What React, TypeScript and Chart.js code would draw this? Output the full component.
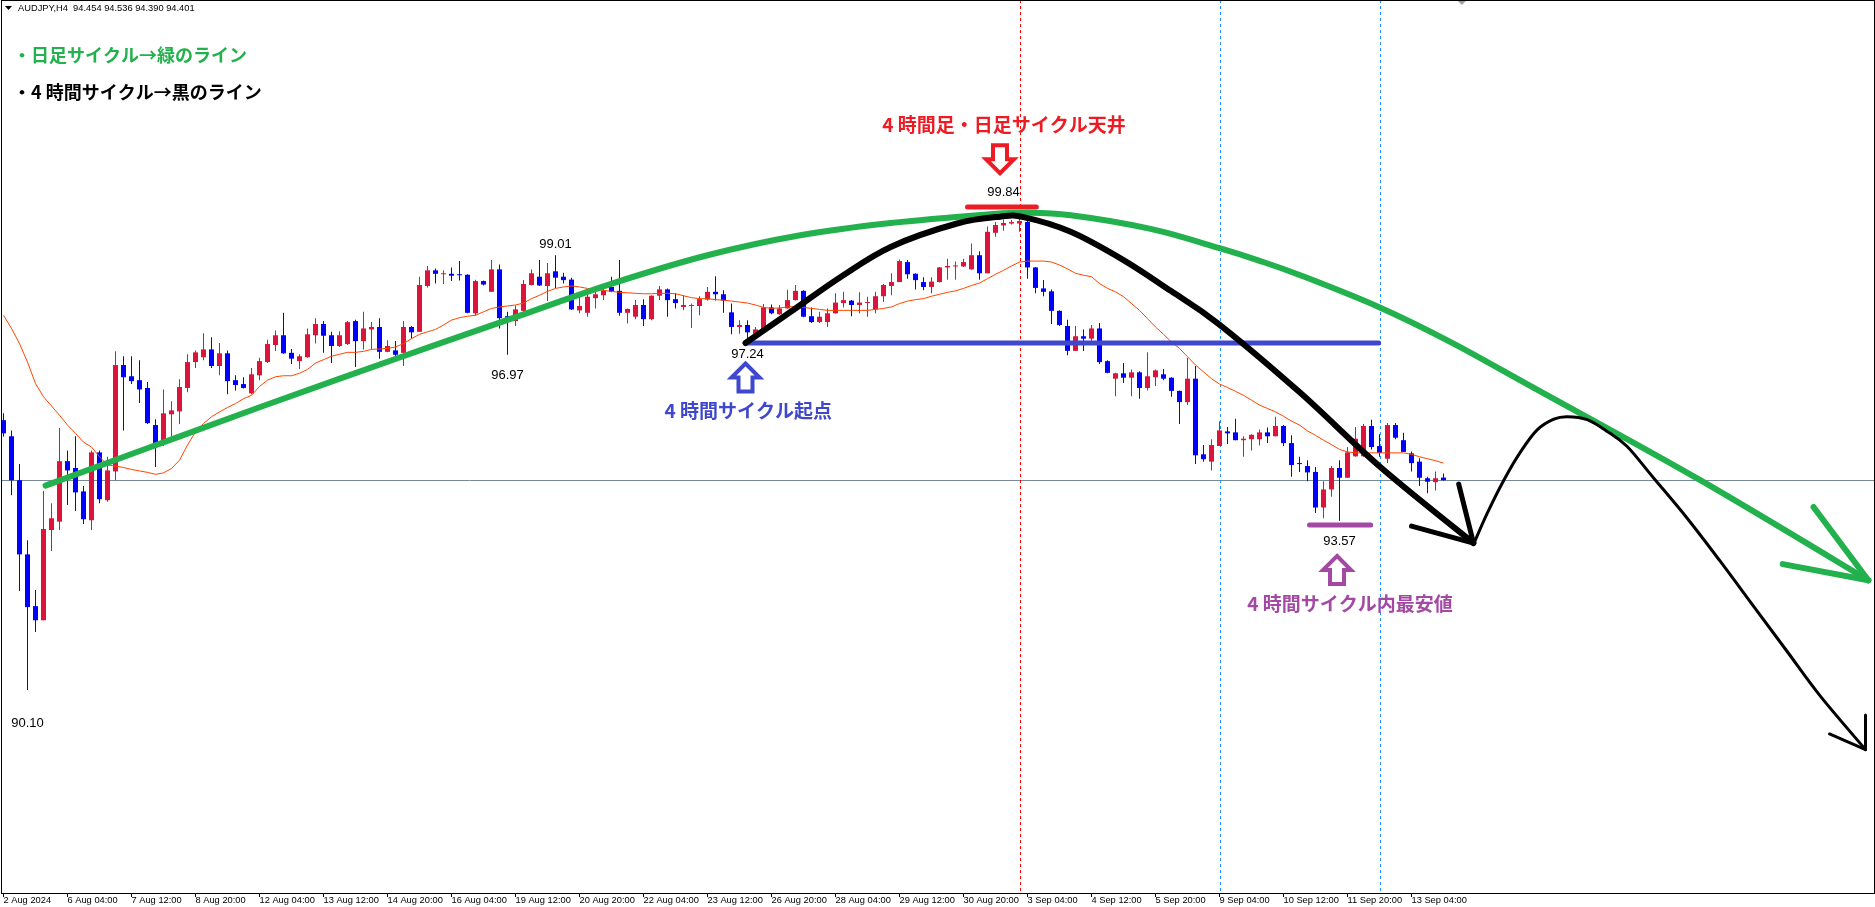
import React, { useEffect, useRef } from "react";
import { Chart, registerables } from "chart.js";

Chart.register(...registerables);

const SYMBOL = "AUDJPY,H4";

const opens = [
  95.63, 95.30, 94.40, 92.88, 91.82, 91.53, 93.38, 93.55, 94.79, 94.65,
  94.17, 93.58, 94.97, 93.99, 94.58, 96.76, 96.53, 96.45, 96.29, 95.53,
  95.22, 95.75, 95.81, 96.29, 96.82, 96.92, 97.08, 96.74, 97.00, 96.45,
  96.37, 96.18, 96.55, 96.82, 97.17, 97.37, 97.01, 96.84, 96.92, 97.37,
  97.60, 97.37, 97.15, 97.19, 97.66, 97.25, 97.49, 97.54, 97.03, 97.06,
  97.01, 97.54, 97.44, 98.38, 98.70, 98.62, 98.63, 98.62, 98.61, 97.82,
  98.48, 98.26, 98.72, 97.76, 97.66, 97.87, 98.40, 98.57, 98.38, 98.68,
  98.57, 98.51, 97.88, 97.83, 98.13, 98.19, 98.36, 98.28, 97.83, 97.75,
  97.99, 97.70, 98.18, 98.31, 98.11, 97.95, 97.97, 97.97, 98.10, 98.26,
  98.21, 97.84, 97.54, 97.58, 97.40, 97.47, 97.94, 97.80, 97.92, 98.09,
  98.28, 97.76, 97.64, 97.64, 97.82, 98.03, 98.08, 97.99, 98.03, 97.90,
  98.17, 98.38, 98.46, 98.87, 98.63, 98.46, 98.36, 98.46, 98.76, 98.78,
  98.78, 98.72, 99.01, 98.64, 99.47, 99.62, 99.66, 99.66, 99.69, 98.76,
  98.33, 98.27, 97.87, 97.56, 97.05, 97.35, 97.30, 97.51, 96.84, 96.48,
  96.59, 96.50, 96.61, 96.29, 96.51, 96.57, 96.50, 96.23, 96.00, 96.48,
  94.93, 94.78, 95.10, 95.40, 95.38, 95.22, 95.24, 95.24, 95.38, 95.30,
  95.51, 95.16, 94.75, 94.69, 94.57, 93.84, 94.21, 94.65, 94.45, 94.89,
  94.89, 95.51, 95.10, 94.84, 95.53, 95.22, 94.95, 94.78, 94.44, 94.36,
  94.454,
];
const highs = [
  95.77, 95.42, 94.73, 93.17, 92.15, 94.18, 93.93, 95.47, 95.01, 95.30,
  94.28, 95.01, 95.01, 94.88, 97.04, 96.94, 96.94, 96.86, 96.41, 95.65,
  96.26, 96.02, 96.47, 96.98, 97.06, 97.41, 97.33, 97.21, 97.06, 96.55,
  96.51, 96.70, 96.91, 97.28, 97.47, 97.83, 97.09, 96.98, 97.51, 97.72,
  97.66, 97.44, 97.45, 97.66, 97.69, 97.85, 97.64, 97.72, 97.27, 97.25,
  97.66, 97.56, 98.57, 98.79, 98.74, 98.70, 98.76, 98.89, 98.62, 98.51,
  98.49, 98.91, 98.82, 97.85, 97.98, 98.50, 98.72, 98.91, 98.85, 99.01,
  98.65, 98.55, 98.16, 98.23, 98.33, 98.36, 98.57, 98.91, 97.92, 98.09,
  98.11, 98.19, 98.38, 98.33, 98.23, 98.19, 98.02, 98.17, 98.36, 98.58,
  98.29, 98.02, 97.68, 97.68, 97.54, 98.01, 98.00, 97.99, 98.30, 98.40,
  98.29, 97.94, 97.85, 97.92, 98.23, 98.26, 98.09, 98.25, 98.16, 98.26,
  98.42, 98.64, 98.92, 98.91, 98.64, 98.56, 98.56, 98.77, 98.94, 98.88,
  98.94, 99.25, 99.09, 99.60, 99.69, 99.74, 99.73, 99.84, 99.80, 98.77,
  98.50, 98.31, 97.88, 97.69, 97.56, 97.49, 97.58, 97.62, 96.86, 96.60,
  96.80, 96.67, 96.63, 97.02, 96.67, 96.68, 96.51, 96.24, 96.91, 96.74,
  95.12, 95.24, 95.61, 95.49, 95.66, 95.30, 95.34, 95.44, 95.48, 95.70,
  95.53, 95.32, 94.88, 94.81, 94.67, 94.38, 94.69, 94.81, 95.08, 95.49,
  95.55, 95.64, 95.34, 95.57, 95.57, 95.37, 94.99, 94.85, 94.47, 94.58,
  94.536,
];
const lows = [
  95.29, 94.09, 92.13, 90.10, 91.29, 91.53, 92.95, 93.38, 93.89, 93.77,
  93.50, 93.38, 93.93, 93.96, 94.40, 95.42, 96.37, 95.98, 95.55, 94.67,
  95.10, 95.27, 95.55, 96.20, 96.70, 96.86, 96.70, 96.55, 96.16, 96.24,
  96.28, 96.16, 96.45, 96.80, 97.05, 96.99, 96.78, 96.68, 96.91, 97.20,
  97.01, 96.80, 97.13, 97.17, 96.72, 97.08, 97.08, 96.89, 97.02, 96.93,
  96.74, 97.30, 97.44, 98.35, 98.43, 98.42, 98.48, 98.49, 97.82, 97.77,
  98.39, 98.26, 97.51, 96.97, 97.56, 97.85, 98.39, 98.38, 98.07, 98.34,
  98.43, 97.89, 97.82, 97.75, 97.92, 98.09, 98.25, 97.77, 97.61, 97.70,
  97.56, 97.68, 98.09, 97.75, 97.92, 97.88, 97.52, 97.78, 98.08, 98.08,
  97.83, 97.39, 97.40, 97.24, 97.39, 97.47, 97.80, 97.79, 97.92, 98.08,
  97.74, 97.62, 97.62, 97.54, 97.81, 97.94, 97.76, 97.82, 97.75, 97.82,
  98.05, 98.19, 98.46, 98.53, 98.31, 98.29, 98.23, 98.45, 98.51, 98.51,
  98.77, 98.71, 98.51, 98.64, 99.39, 99.51, 99.64, 99.49, 98.53, 98.23,
  98.17, 97.60, 97.56, 96.96, 97.05, 97.05, 97.23, 96.78, 96.59, 96.12,
  96.39, 96.12, 96.07, 96.24, 96.33, 96.45, 96.11, 95.55, 95.94, 94.73,
  94.78, 94.60, 95.10, 95.14, 95.22, 94.88, 95.01, 95.11, 95.16, 95.30,
  95.10, 94.47, 94.57, 94.38, 93.73, 93.62, 94.06, 93.57, 94.45, 94.88,
  94.88, 95.03, 94.88, 94.75, 95.24, 94.98, 94.58, 94.28, 94.13, 94.19,
  94.390,
];
const closes = [
  95.36, 94.40, 92.88, 91.80, 91.53, 93.40, 93.62, 94.79, 94.60, 94.15,
  93.60, 94.97, 94.01, 94.60, 96.76, 96.51, 96.43, 96.26, 95.57, 95.14,
  95.77, 95.83, 96.31, 96.82, 97.02, 97.08, 96.74, 97.00, 96.43, 96.35,
  96.29, 96.57, 96.84, 97.19, 97.37, 97.00, 96.89, 96.94, 97.39, 97.60,
  97.36, 97.15, 97.37, 97.64, 97.25, 97.51, 97.54, 97.03, 97.15, 96.97,
  97.54, 97.43, 98.40, 98.70, 98.63, 98.63, 98.59, 98.60, 97.83, 98.48,
  98.41, 98.72, 97.72, 97.72, 97.90, 98.42, 98.64, 98.39, 98.64, 98.55,
  98.50, 97.90, 97.97, 98.16, 98.21, 98.29, 98.26, 97.83, 97.91, 97.99,
  97.70, 98.18, 98.31, 98.09, 98.03, 97.99, 97.99, 98.11, 98.26, 98.21,
  98.08, 97.54, 97.58, 97.43, 97.49, 97.94, 97.82, 97.92, 98.09, 98.28,
  97.75, 97.64, 97.75, 97.82, 98.04, 98.09, 97.99, 98.04, 98.04, 98.17,
  98.40, 98.46, 98.89, 98.62, 98.50, 98.36, 98.47, 98.76, 98.79, 98.79,
  98.87, 99.01, 98.64, 99.49, 99.63, 99.67, 99.69, 99.71, 98.76, 98.34,
  98.26, 97.87, 97.58, 97.05, 97.35, 97.30, 97.51, 96.82, 96.60, 96.59,
  96.50, 96.61, 96.29, 96.53, 96.65, 96.48, 96.23, 96.00, 96.48, 94.91,
  94.83, 95.12, 95.42, 95.36, 95.22, 95.25, 95.33, 95.38, 95.30, 95.51,
  95.16, 94.71, 94.73, 94.56, 93.84, 94.21, 94.65, 94.45, 94.97, 95.25,
  95.51, 95.08, 94.96, 95.53, 95.27, 94.98, 94.75, 94.45, 94.37, 94.44,
  94.401,
];
const maValues = [
  97.78, 97.51, 97.20, 96.82, 96.38, 96.11, 95.92, 95.73, 95.53, 95.36,
  95.18, 95.08, 94.88, 94.71, 94.69, 94.66, 94.62, 94.59, 94.56, 94.52,
  94.55, 94.64, 94.81, 95.12, 95.39, 95.56, 95.70, 95.80, 95.89, 95.97,
  96.07, 96.14, 96.32, 96.45, 96.52, 96.54, 96.54, 96.59, 96.67, 96.80,
  96.87, 96.94, 96.98, 97.02, 97.02, 97.04, 97.08, 97.09, 97.10, 97.13,
  97.20, 97.30, 97.39, 97.44, 97.49, 97.58, 97.68, 97.73, 97.76, 97.78,
  97.85, 97.92, 97.95, 97.97, 97.99, 98.03, 98.12, 98.19, 98.27, 98.33,
  98.36, 98.38, 98.36, 98.33, 98.31, 98.29, 98.27, 98.25, 98.24, 98.23,
  98.22, 98.22, 98.23, 98.23, 98.22, 98.18, 98.14, 98.12, 98.12, 98.10,
  98.09, 98.07, 98.05, 98.03, 97.99, 97.94, 97.92, 97.93, 97.95, 97.96,
  97.94, 97.92, 97.90, 97.88, 97.88, 97.88, 97.88, 97.88, 97.88, 97.90,
  97.92, 97.95, 98.02, 98.07, 98.10, 98.12, 98.17, 98.21, 98.25, 98.28,
  98.33, 98.39, 98.44, 98.53, 98.62, 98.70, 98.79, 98.87, 98.89, 98.89,
  98.89, 98.87, 98.81, 98.73, 98.64, 98.60, 98.57, 98.43, 98.33, 98.26,
  98.16, 98.02, 97.88, 97.71, 97.54, 97.39, 97.23, 97.10, 96.93, 96.76,
  96.62, 96.48, 96.37, 96.30, 96.22, 96.14, 96.04, 95.94, 95.87, 95.80,
  95.71, 95.61, 95.53, 95.41, 95.32, 95.22, 95.13, 95.03, 94.98, 94.96,
  94.96, 94.96, 94.96, 94.96, 94.96, 94.96, 94.93, 94.88, 94.84, 94.80,
  94.75,
];

const tickIndex = [
  0, 8, 16, 24, 32, 40, 48, 56, 64, 72, 80, 88, 96, 104, 112, 120, 128, 136,
  144, 152, 160, 168, 176,
];
const tickLabels = [
  "2 Aug 2024", "6 Aug 04:00", "7 Aug 12:00", "8 Aug 20:00", "12 Aug 04:00",
  "13 Aug 12:00", "14 Aug 20:00", "16 Aug 04:00", "19 Aug 12:00",
  "20 Aug 20:00", "22 Aug 04:00", "23 Aug 12:00", "26 Aug 20:00",
  "28 Aug 04:00", "29 Aug 12:00", "30 Aug 20:00", "3 Sep 04:00",
  "4 Sep 12:00", "5 Sep 20:00", "9 Sep 04:00", "10 Sep 12:00",
  "11 Sep 20:00", "13 Sep 04:00",
];

// hand-drawn annotation paths, in (bar index, price)
const greenCurve = [
  [5.25, 94.29], [18.4, 95.08], [32.1, 95.9], [49.6, 96.92], [65.9, 97.85],
  [76.25, 98.44], [88.0, 99.01], [99.6, 99.42], [110.9, 99.67],
  [123.4, 99.85], [127.5, 99.88], [133.4, 99.83], [143.4, 99.55],
  [151.9, 99.16], [156.75, 98.91], [162.1, 98.6], [171.9, 97.95],
  [180.9, 97.23], [191.75, 96.25], [212.1, 94.4], [233.1, 92.35],
];
const greenHead = [[226.25, 93.85], [222.4, 92.68]];
const blackCurve = [
  [92.75, 97.21], [98.4, 97.85], [104.6, 98.56], [110.9, 99.18],
  [119.2, 99.66], [124.6, 99.8], [127.5, 99.79], [133.4, 99.49],
  [140.0, 98.91], [145.9, 98.28], [151.75, 97.62], [162.1, 96.19],
  [172.1, 94.67], [183.75, 93.11],
];
const blackHead = [[181.9, 94.32], [176.0, 93.46]];
const thinCurve = [
  [183.79, 93.1], [185.46, 93.72], [187.54, 94.4], [189.63, 94.98],
  [191.71, 95.43], [193.79, 95.65], [195.46, 95.7], [197.96, 95.64],
  [200.46, 95.4], [202.96, 95.09], [206.29, 94.44], [210.46, 93.62],
  [214.63, 92.73], [218.79, 91.81], [222.96, 90.89], [227.13, 89.97],
  [232.75, 88.88],
];
const thinHead = [[232.75, 89.59], [228.25, 89.2]];

const RED_C = "#dc143c";
const BLUE_C = "#0000ff";
const P_GREEN = "#22b14c";
const P_RED = "#ed1c24";
const P_BLUE = "#3f48cc";
const P_PURPLE = "#a349a4";

const hLines = [
  { from: 92.75, to: 171.9, price: 97.21, color: P_BLUE },
  { from: 120.5, to: 129.1, price: 100.0, color: P_RED },
  { from: 163.25, to: 170.9, price: 93.48, color: P_PURPLE },
];
const vLines = [
  { idx: 127, color: "#ff0000" },
  { idx: 152, color: "#1e90ff" },
  { idx: 172, color: "#1e90ff" },
];
const blockArrows = [
  { idx: 124.56, price: 100.976, dir: 1, color: P_RED },
  { idx: 92.75, price: 96.505, dir: -1, color: P_BLUE },
  { idx: 166.69, price: 92.56, dir: -1, color: P_PURPLE },
];
const notes = [
  { text: "4 時間足・日足サイクル天井", idx: 125.06, price: 101.679, color: P_RED },
  { text: "4 時間サイクル起点", idx: 93.1, price: 95.818, color: P_BLUE },
  { text: "4 時間サイクル内最安値", idx: 168.3, price: 91.863, color: P_PURPLE },
];
const priceLabels = [
  { idx: 69, kind: "high", dx: 0, dy: -11 },
  { idx: 63, kind: "low", dx: 0, dy: 21 },
  { idx: 93, kind: "low", dx: 0, dy: 13 },
  { idx: 167, kind: "low", dx: 0, dy: 21 },
  { idx: 127, kind: "high", dx: -16, dy: -22 },
  { idx: 3, kind: "low", dx: 0, dy: 33 },
];

function smooth(ctx, pts) {
  ctx.beginPath();
  ctx.moveTo(pts[0][0], pts[0][1]);
  for (let i = 0; i < pts.length - 1; i++) {
    const p0 = pts[Math.max(0, i - 1)];
    const p1 = pts[i];
    const p2 = pts[i + 1];
    const p3 = pts[Math.min(pts.length - 1, i + 2)];
    ctx.bezierCurveTo(
      p1[0] + (p2[0] - p0[0]) / 6,
      p1[1] + (p2[1] - p0[1]) / 6,
      p2[0] - (p3[0] - p1[0]) / 6,
      p2[1] - (p3[1] - p1[1]) / 6,
      p2[0],
      p2[1]
    );
  }
  ctx.stroke();
}

const annotate = {
  id: "annotate",
  beforeDraw(chart) {
    const { ctx, width, height } = chart;
    ctx.save();
    ctx.fillStyle = "#ffffff";
    ctx.fillRect(0, 0, width, height);
    ctx.restore();
  },
  beforeDatasetsDraw(chart) {
    const { ctx, chartArea: ca, scales } = chart;
    const X = (v) => scales.x.getPixelForValue(v);
    const Y = (v) => scales.y.getPixelForValue(v);
    ctx.save();
    const by = Math.round(Y(closes[closes.length - 1])) + 0.5;
    ctx.strokeStyle = "#778899";
    ctx.lineWidth = 1;
    ctx.beginPath();
    ctx.moveTo(ca.left, by);
    ctx.lineTo(ca.right, by);
    ctx.stroke();
    ctx.setLineDash([3, 3]);
    vLines.forEach((v) => {
      const x = Math.round(X(v.idx)) + 0.5;
      ctx.strokeStyle = v.color;
      ctx.beginPath();
      ctx.moveTo(x, ca.top);
      ctx.lineTo(x, ca.bottom);
      ctx.stroke();
    });
    ctx.setLineDash([]);
    const sx = X(182.3);
    ctx.fillStyle = "#a0a0a0";
    ctx.beginPath();
    ctx.moveTo(sx - 5, ca.top);
    ctx.lineTo(sx + 5, ca.top);
    ctx.lineTo(sx, ca.top + 5);
    ctx.closePath();
    ctx.fill();
    ctx.restore();
  },
  afterDatasetsDraw(chart) {
    const { ctx, scales } = chart;
    const X = (v) => scales.x.getPixelForValue(v);
    const Y = (v) => scales.y.getPixelForValue(v);
    const P = (pts) => pts.map((p) => [X(p[0]), Y(p[1])]);
    ctx.save();
    ctx.lineCap = "round";
    ctx.lineJoin = "round";

    hLines.forEach((l) => {
      ctx.strokeStyle = l.color;
      ctx.lineWidth = 5;
      ctx.beginPath();
      ctx.moveTo(X(l.from), Y(l.price));
      ctx.lineTo(X(l.to), Y(l.price));
      ctx.stroke();
    });

    ctx.strokeStyle = P_GREEN;
    ctx.lineWidth = 6;
    const g = P(greenCurve);
    smooth(ctx, g);
    const gt = g[g.length - 1];
    P(greenHead).forEach((h) => {
      ctx.beginPath();
      ctx.moveTo(h[0], h[1]);
      ctx.lineTo(gt[0], gt[1]);
      ctx.stroke();
    });

    ctx.strokeStyle = "#000000";
    ctx.lineWidth = 6;
    const b = P(blackCurve);
    smooth(ctx, b);
    const bt = b[b.length - 1];
    ctx.lineWidth = 5;
    P(blackHead).forEach((h) => {
      ctx.beginPath();
      ctx.moveTo(h[0], h[1]);
      ctx.lineTo(bt[0], bt[1]);
      ctx.stroke();
    });

    ctx.lineWidth = 3;
    const t = P(thinCurve);
    smooth(ctx, t);
    const tt = t[t.length - 1];
    P(thinHead).forEach((h) => {
      ctx.beginPath();
      ctx.moveTo(h[0], h[1]);
      ctx.lineTo(tt[0], tt[1]);
      ctx.stroke();
    });

    ctx.lineJoin = "miter";
    ctx.lineCap = "butt";
    blockArrows.forEach((a) => {
      const cx = X(a.idx);
      const cy = Y(a.price);
      const d = a.dir;
      ctx.strokeStyle = a.color;
      ctx.lineWidth = 4;
      ctx.beginPath();
      ctx.moveTo(cx, cy + d * 14);
      ctx.lineTo(cx + 14, cy);
      ctx.lineTo(cx + 7, cy);
      ctx.lineTo(cx + 7, cy - d * 14);
      ctx.lineTo(cx - 7, cy - d * 14);
      ctx.lineTo(cx - 7, cy);
      ctx.lineTo(cx - 14, cy);
      ctx.closePath();
      ctx.stroke();
    });

    ctx.textAlign = "center";
    ctx.textBaseline = "middle";
    ctx.font = 'bold 19px "Noto Sans CJK JP"';
    notes.forEach((n) => {
      ctx.fillStyle = n.color;
      ctx.fillText(n.text, X(n.idx), Y(n.price));
    });

    ctx.font = '13px "Liberation Sans"';
    ctx.fillStyle = "#000000";
    priceLabels.forEach((l) => {
      const v = l.kind === "high" ? highs[l.idx] : lows[l.idx];
      ctx.fillText(v.toFixed(2), X(l.idx) + l.dx, Y(v) + l.dy);
    });
    ctx.restore();
  },
  afterDraw(chart) {
    const { ctx, chartArea: ca } = chart;
    ctx.save();
    ctx.strokeStyle = "#000000";
    ctx.lineWidth = 1;
    ctx.strokeRect(ca.left + 0.5, ca.top + 0.5, ca.right - ca.left - 1, ca.bottom - ca.top);
    ctx.fillStyle = "#000000";
    ctx.beginPath();
    ctx.moveTo(ca.left + 4, ca.top + 6);
    ctx.lineTo(ca.left + 11, ca.top + 6);
    ctx.lineTo(ca.left + 7.5, ca.top + 10);
    ctx.closePath();
    ctx.fill();
    const n = closes.length - 1;
    const hdr = `${SYMBOL}  ${opens[n].toFixed(3)} ${highs[n].toFixed(3)} ${lows[n].toFixed(3)} ${closes[n].toFixed(3)}`;
    ctx.font = '9.3px "Liberation Sans"';
    ctx.textBaseline = "middle";
    ctx.textAlign = "left";
    ctx.fillText(hdr, ca.left + 17, ca.top + 8.5);
    ctx.font = 'bold 18px "Noto Sans CJK JP"';
    ctx.fillStyle = P_GREEN;
    ctx.fillText("・日足サイクル→緑のライン", ca.left + 12, ca.top + 55);
    ctx.fillStyle = "#000000";
    ctx.fillText("・4 時間サイクル→黒のライン", ca.left + 12, ca.top + 92);
    ctx.restore();
  },
};

export default function App() {
  const ref = useRef(null);
  useEffect(() => {
    document.body.style.margin = "0";
    const canvas = ref.current;
    const colorOf = (i) => (closes[i] >= opens[i] ? RED_C : BLUE_C);
    const idx = opens.map((_, i) => i);
    const chart = new Chart(canvas, {
      type: "bar",
      data: {
        datasets: [
          {
            type: "line",
            data: idx.map((i) => ({ x: i, y: maValues[i] })),
            borderColor: "#ff4500",
            borderWidth: 1,
            pointRadius: 0,
            tension: 0,
            fill: false,
          },
          {
            type: "bar",
            data: idx.map((i) => ({ x: i, y: [opens[i], closes[i]] })),
            backgroundColor: idx.map(colorOf),
            barThickness: 5,
            minBarLength: 1,
            grouped: false,
            borderWidth: 0,
            inflateAmount: 0,
          },
          {
            type: "bar",
            data: idx.map((i) => ({ x: i, y: [lows[i], highs[i]] })),
            backgroundColor: idx.map(colorOf),
            barThickness: 1,
            grouped: false,
            borderWidth: 0,
            inflateAmount: 0,
          },
        ],
      },
      options: {
        animation: false,
        responsive: false,
        maintainAspectRatio: false,
        events: [],
        layout: { padding: { left: 1, right: 0, top: 0, bottom: 0 } },
        plugins: { legend: { display: false }, tooltip: { enabled: false } },
        scales: {
          x: {
            type: "linear",
            offset: false,
            min: -0.3125,
            max: 233.9375,
            afterBuildTicks: (s) => {
              s.ticks = tickIndex.map((v) => ({ value: v }));
            },
            afterFit: (s) => {
              s.height = 14;
            },
            ticks: {
              autoSkip: false,
              maxRotation: 0,
              minRotation: 0,
              align: "start",
              padding: -2,
              color: "#000000",
              font: { family: "Liberation Sans", size: 9.3 },
              callback: (v, i) => tickLabels[i],
            },
            grid: {
              offset: false,
              drawOnChartArea: false,
              drawTicks: true,
              tickLength: 4,
              color: "#000000",
            },
            border: { display: false },
          },
          y: {
            display: false,
            min: 85.941,
            max: 104.24,
          },
        },
      },
      plugins: [annotate],
    });
    return () => chart.destroy();
  }, []);
  return (
    <div>
      <style>{"body{margin:0}"}</style>
      <canvas ref={ref} width={1875} height={907} style={{ display: "block" }} />
    </div>
  );
}
